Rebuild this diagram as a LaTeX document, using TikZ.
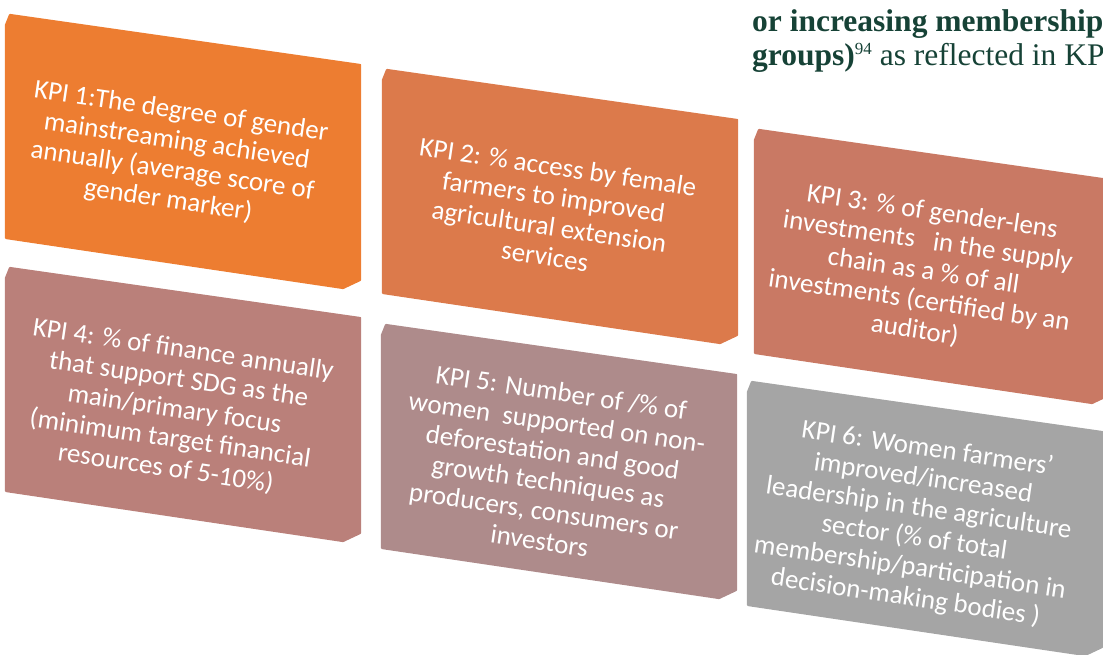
\documentclass[tikz,border=0pt]{standalone}
\usepackage{fontspec}
\setmainfont{Carlito}
\newfontfamily\headfont{Liberation Serif}
\usepackage{tikz}
\usetikzlibrary{positioning}
\definecolor{kpione}{RGB}{237,125,49}
\definecolor{kpitwo}{RGB}{220,122,75}
\definecolor{kpithree}{RGB}{201,121,100}
\definecolor{kpifour}{RGB}{186,128,122}
\definecolor{kpifive}{RGB}{174,139,139}
\definecolor{kpisix}{RGB}{165,165,165}
\definecolor{headgreen}{RGB}{22,66,54}
\tikzstyle{face} = [draw=white, line width=2.2pt, line join=round]
\tikzstyle{kpitext} = [text=white, align=center, rotate=-8.4, inner sep=0pt,
  font=\fontsize{27}{30}\selectfont]
\tikzstyle{head} = [text=headgreen, anchor=base west, inner sep=0pt,
  font=\headfont\fontsize{31.5}{34}\selectfont]
\newcommand{\supnum}[1]{\raisebox{11pt}{\fontsize{17}{17}\selectfont #1}}
% #1 name, #2 x, #3 y, #4 colour, #5 text
\newcommand{\kpibox}[5]{%
  \begin{scope}[shift={(#2,#3)}]
    \fill[face, #4] (0,0) -- (4,-10) -- (354,40) -- (337,50) -- cycle;
    \fill[face, #4] (337,50) -- (354,40) -- (354,255) -- (337,263) -- cycle;
    \fill[face, #4] (0,0) -- (337,50) -- (337,263) -- (0,213) -- cycle;
    \node[kpitext] (#1) at (168.5,131.5) {#5};
  \end{scope}}

\begin{document}
\begin{tikzpicture}[x=1pt, y=-1pt]
    \useasboundingbox (0,0) rectangle (1103,654);
    \node[head] (head1) at (752,31) {\bfseries or increasing membership};
    \node[head] (head2) at (752,65) {\textbf{groups)}\supnum{94} as reflected in KP};
    \kpibox{kpi1}{6}{25}{kpione}{KPI 1:The degree of gender\\ mainstreaming achieved\\ annually (average score of\\ gender marker)}
    \kpibox{kpi2}{383}{80}{kpitwo}{KPI 2: \% access by female\\ farmers to improved\\ agricultural extension\\ services}
    \kpibox{kpi3}{755}{140}{kpithree}{KPI 3: \% of gender-lens\\ investments\ \ \ in the supply\\ chain as a \% of all\\ investments (certified by an\\ auditor)}
    \kpibox{kpi4}{6}{278}{kpifour}{KPI 4: \% of finance annually\\ that support SDG as the\\ main/primary focus\\ (minimum target financial\\ resources of 5-10\%)}
    \kpibox{kpi5}{382}{335}{kpifive}{KPI 5: Number of /\% of\\ women\ \ supported on non-\\ deforestation and good\\ growth techniques as\\ producers, consumers or\\ investors}
    \kpibox{kpi6}{748}{392}{kpisix}{KPI 6: Women farmers'\\ improved/increased\\ leadership in the agriculture\\ sector (\% of total\\ membership/participation in\\ decision-making bodies )}
\end{tikzpicture}
\end{document}
